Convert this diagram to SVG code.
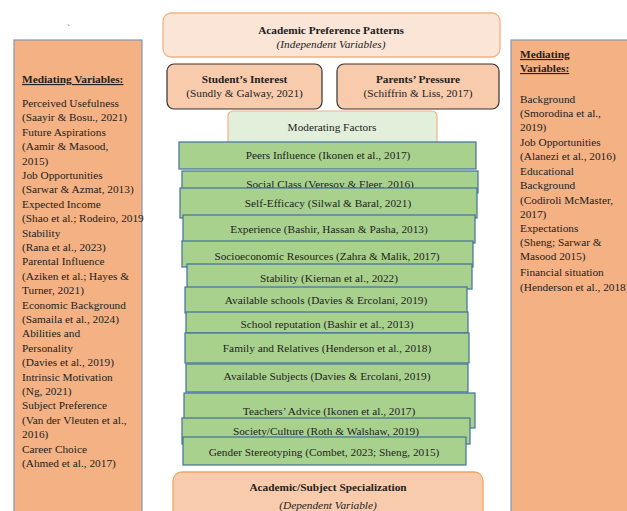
<svg xmlns="http://www.w3.org/2000/svg" width="627" height="511" viewBox="0 0 627 511">
<style>
text{font-family:"Liberation Serif","Times New Roman",serif;font-size:11.3px;fill:#222}
.c{text-anchor:middle}
.b{font-weight:bold}
.i{font-style:italic}
.u{text-decoration:underline}
.med{fill:#f4b183;stroke:#8497b0;stroke-width:1.2}
.g{fill:#a9d18e;stroke:#41719c;stroke-width:1.2}
</style>
<rect width="627" height="511" fill="#fff"/>
<text x="67" y="31" style="font-size:9px;fill:#555">`</text>

<g id="left-mediating">
<rect class="med" x="14" y="40" width="128" height="480"/>
<text x="22" y="83" class="b u">Mediating Variables:</text>
<text x="22" y="107">Perceived Usefulness</text>
<text x="22" y="121.4">(Saayir &amp; Bosu., 2021)</text>
<text x="22" y="135.8">Future Aspirations</text>
<text x="22" y="150.2">(Aamir &amp; Masood,</text>
<text x="22" y="164.6">2015)</text>
<text x="22" y="179">Job Opportunities</text>
<text x="22" y="193.4">(Sarwar &amp; Azmat, 2013)</text>
<text x="22" y="207.8">Expected Income</text>
<text x="22" y="222.2">(Shao et al.; Rodeiro, 2019</text>
<text x="22" y="236.6">Stability</text>
<text x="22" y="251">(Rana et al., 2023)</text>
<text x="22" y="265.4">Parental Influence</text>
<text x="22" y="279.8">(Aziken et al.; Hayes &amp;</text>
<text x="22" y="294.2">Turner, 2021)</text>
<text x="22" y="308.6">Economic Background</text>
<text x="22" y="323">(Samaila et al., 2024)</text>
<text x="22" y="337.4">Abilities and</text>
<text x="22" y="351.8">Personality</text>
<text x="22" y="366.2">(Davies et al., 2019)</text>
<text x="22" y="380.6">Intrinsic Motivation</text>
<text x="22" y="395">(Ng, 2021)</text>
<text x="22" y="409.4">Subject Preference</text>
<text x="22" y="423.8">(Van der Vleuten et al.,</text>
<text x="22" y="438.2">2016)</text>
<text x="22" y="452.6">Career Choice</text>
<text x="22" y="467">(Ahmed et al., 2017)</text>
</g>

<g id="right-mediating">
<rect class="med" x="511" y="40" width="130" height="480"/>
<text x="520" y="58" class="b u">Mediating</text>
<text x="520" y="72" class="b u">Variables:</text>
<text x="520" y="103">Background</text>
<text x="520" y="117">(Smorodina et al.,</text>
<text x="520" y="131">2019)</text>
<text x="520" y="146">Job Opportunities</text>
<text x="520" y="160">(Alanezi et al., 2016)</text>
<text x="520" y="175">Educational</text>
<text x="520" y="189">Background</text>
<text x="520" y="204">(Codiroli McMaster,</text>
<text x="520" y="218">2017)</text>
<text x="520" y="232">Expectations</text>
<text x="520" y="246">(Sheng; Sarwar &amp;</text>
<text x="520" y="260">Masood 2015)</text>
<text x="520" y="276">Financial situation</text>
<text x="520" y="291">(Henderson et al., 2018)</text>
</g>

<g id="academic-preference">
<rect x="163" y="13" width="337" height="44" rx="8" fill="#fbe5d6" stroke="#f4b183" stroke-width="1.3"/>
<text x="331" y="34" class="c b">Academic Preference Patterns</text>
<text x="331" y="48" class="c i">(Independent Variables)</text>
</g>

<g id="students-interest">
<rect x="167" y="64" width="155" height="45" rx="7" fill="#f8cbad" stroke="#333" stroke-width="1.2"/>
<text x="244.5" y="83" class="c b">Student’s Interest</text>
<text x="244.5" y="97" class="c">(Sundly &amp; Galway, 2021)</text>
</g>

<g id="parents-pressure">
<rect x="337" y="64" width="162" height="45" rx="7" fill="#f8cbad" stroke="#333" stroke-width="1.2"/>
<text x="418" y="83" class="c b">Parents’ Pressure</text>
<text x="418" y="97" class="c">(Schiffrin &amp; Liss, 2017)</text>
</g>

<g id="moderating-factors">
<rect x="228" y="111" width="209" height="40" rx="5" fill="#e2efda" stroke="#f4b183" stroke-width="1.2"/>
<text x="332" y="131" class="c">Moderating Factors</text>
</g>

<g id="peers-influence">
<rect class="g" x="179" y="142" width="297" height="27"/>
<text x="328" y="159" class="c">Peers Influence (Ikonen et al., 2017)</text>
</g>
<g id="social-class">
<rect class="g" x="182" y="171" width="296" height="22"/>
<text x="330" y="188" class="c">Social Class (Veresov &amp; Fleer, 2016)</text>
<path d="M305 190 q1.5 -1.5 3 0 t3 0 t3 0 t3 0 t3 0 t3 0 t3 0" fill="none" stroke="#d33" stroke-width="0.8"/>
</g>
<g id="self-efficacy">
<rect class="g" x="180" y="188" width="297" height="30"/>
<text x="328" y="207" class="c">Self-Efficacy (Silwal &amp; Baral, 2021)</text>
</g>
<g id="experience">
<rect class="g" x="183" y="215" width="292" height="28"/>
<text x="329" y="233" class="c">Experience (Bashir, Hassan &amp; Pasha, 2013)</text>
</g>
<g id="socioeconomic">
<rect class="g" x="182" y="241" width="291" height="26"/>
<text x="327" y="260" class="c">Socioeconomic Resources (Zahra &amp; Malik, 2017)</text>
</g>
<g id="stability">
<rect class="g" x="187" y="264" width="285" height="25"/>
<text x="329" y="282" class="c">Stability (Kiernan et al., 2022)</text>
</g>
<g id="available-schools">
<rect class="g" x="185" y="287" width="282" height="26"/>
<text x="326" y="304" class="c">Available schools (Davies &amp; Ercolani, 2019)</text>
</g>
<g id="school-reputation">
<rect class="g" x="186" y="312" width="282" height="21"/>
<text x="327" y="328" class="c">School reputation (Bashir et al., 2013)</text>
</g>
<g id="family-relatives">
<rect class="g" x="185" y="333" width="284" height="30"/>
<text x="327" y="352" class="c">Family and Relatives (Henderson et al., 2018)</text>
</g>
<g id="available-subjects">
<rect class="g" x="186" y="364" width="282" height="28"/>
<text x="327" y="380" class="c">Available Subjects (Davies &amp; Ercolani, 2019)</text>
</g>
<g id="teachers-advice">
<rect class="g" x="184" y="393" width="291" height="35"/>
<text x="329" y="415" class="c">Teachers’ Advice (Ikonen et al., 2017)</text>
</g>
<g id="society-culture">
<rect class="g" x="182" y="418" width="288" height="26"/>
<text x="326" y="435" class="c">Society/Culture (Roth &amp; Walshaw, 2019)</text>
</g>
<g id="gender-stereotyping">
<rect class="g" x="183" y="437" width="283" height="28"/>
<text x="324" y="456" class="c">Gender Stereotyping (Combet, 2023; Sheng, 2015)</text>
</g>

<g id="academic-specialization">
<rect x="173" y="472" width="310" height="60" rx="9" fill="#f8cbad" stroke="#f4a460" stroke-width="1.3"/>
<text x="328" y="491" class="c b">Academic/Subject Specialization</text>
<text x="328" y="509" class="c i">(Dependent Variable)</text>
</g>
<g id="connectors"></g>
</svg>
